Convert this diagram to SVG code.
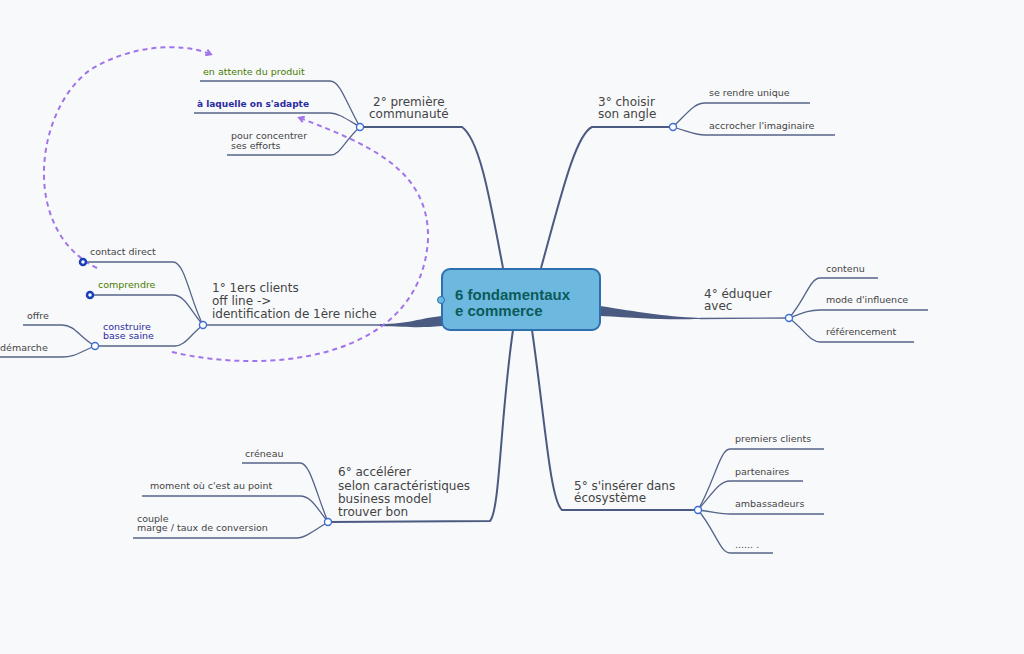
<svg xmlns="http://www.w3.org/2000/svg" width="1024" height="654" viewBox="0 0 1024 654">
<style>
.b{fill:none;stroke:#56648a;stroke-width:1.3}
.m{fill:none;stroke:#4b5a80;stroke-width:2}
.t{font-family:"DejaVu Sans",sans-serif;font-size:9.5px;fill:#444}
.mt{font-family:"DejaVu Sans",sans-serif;font-size:12px;fill:#444}
.c{fill:#fff;stroke:#3b6fd6;stroke-width:1.4}
.cd{fill:#fff;stroke:#1a3fb8;stroke-width:2.5}
.d{fill:none;stroke:#a274ea;stroke-width:2;stroke-dasharray:5 4}
</style>
<defs><marker id="a" markerWidth="8" markerHeight="8" refX="5" refY="4" orient="auto" markerUnits="userSpaceOnUse"><path d="M1,1 L6,4 L1,7" fill="none" stroke="#a274ea" stroke-width="2"/></marker></defs>
<rect width="1024" height="654" fill="#f8f9fb"/>
<g id="connectors">
<path class="m" d="M503,268 C490,200 480,140 462,127 L360,127"/>
<path class="m" d="M541,268 C560,200 575,135 592,127 L673,127"/>
<path fill="#4b5a80" d="M600,306 C640,312 660,316 700,318 L700,319 C660,320 640,318 600,316 Z"/>
<path class="b" d="M700,318.5 L789,318"/>
<path class="m" d="M532,330 C545,420 550,500 562,510 L698,510"/>
<path class="m" d="M513,330 C500,420 500,510 490,521 L328,522"/>
<path fill="#4b5a80" d="M442,316 C420,318 410,324 380,324 L380,326 C410,327 420,328 442,326 Z"/>
<path class="b" d="M380,325 L203,325"/>
<path class="b" d="M360,127 C345,100 340,81 330,81 L200,81"/>
<path class="b" d="M360,127 C345,118 338,113 330,113 L194,113"/>
<path class="b" d="M360,127 C345,140 340,155 331,155 L227,155"/>
<path class="b" d="M673,127 C690,110 695,103 705,103 L810,103"/>
<path class="b" d="M673,127 C690,132 695,135 705,135 L835,135"/>
<path class="b" d="M789,318 C805,300 810,278 820,278 L878,278"/>
<path class="b" d="M789,318 C805,312 810,310 820,310 L928,310"/>
<path class="b" d="M789,318 C805,330 810,342 820,342 L914,342"/>
<path class="b" d="M698,510 C715,480 720,449 730,449 L824,449"/>
<path class="b" d="M698,510 C715,490 720,481 730,481 L803,481"/>
<path class="b" d="M698,510 C715,512 720,514 730,514 L824,514"/>
<path class="b" d="M698,510 C715,530 720,553 730,553 L773,553"/>
<path class="b" d="M328,522 C315,490 310,463 300,463 L242,463"/>
<path class="b" d="M328,522 C315,505 310,496 300,496 L142,496"/>
<path class="b" d="M328,522 C315,530 305,538 297,538 L133,538"/>
<path class="b" d="M203,325 C190,300 185,262 173,262 L83,262"/>
<path class="b" d="M203,325 C190,310 185,295 173,295 L90,295"/>
<path class="b" d="M203,325 C190,335 185,346 175,346 L95,346"/>
<path class="b" d="M95,346 C80,338 75,325 62,325 L23,325"/>
<path class="b" d="M95,346 C80,352 75,357 62,357 L0,357"/>
<path class="d" marker-end="url(#a)" d="M97,268 C20,230 35,110 90,70 C130,45 180,42 210,54"/>
<path class="d" marker-end="url(#a)" d="M172,352 C270,375 420,360 428,240 C430,170 370,145 300,118"/>
</g>
<g id="center"><rect x="442" y="269" width="158" height="61" rx="8" fill="#6cb8de" stroke="#2f6fb0" stroke-width="2"/>
<circle cx="441" cy="300" r="3.5" fill="#6cb8de" stroke="#2f6fb0"/>
<text x="455" y="300" font-family="Liberation Sans,sans-serif" font-weight="bold" font-size="15" fill="#0b5b5a">6 fondamentaux</text>
<text x="455" y="316" font-family="Liberation Sans,sans-serif" font-weight="bold" font-size="15" fill="#0b5b5a">e commerce</text></g>
<g id="n2"><text class="mt" x="373" y="106">2° première</text><text class="mt" x="369" y="118">communauté</text><circle class="c" cx="360" cy="127" r="3.5"/></g>
<g id="n2a"><text class="t" x="203" y="75" fill="#4a7a00" style="fill:#4a7a00">en attente du produit</text></g>
<g id="n2b"><text class="t" x="197" y="107" style="fill:#2b2ba0;font-weight:bold;font-size:9px">à laquelle on s'adapte</text></g>
<g id="n2c"><text class="t" x="231" y="139">pour concentrer</text><text class="t" x="231" y="149">ses efforts</text></g>
<g id="n3"><text class="mt" x="598" y="106">3° choisir</text><text class="mt" x="598" y="118">son angle</text><circle class="c" cx="673" cy="127" r="3.5"/></g>
<g id="n3a"><text class="t" x="709" y="96">se rendre unique</text></g>
<g id="n3b"><text class="t" x="709" y="129">accrocher l'imaginaire</text></g>
<g id="n4"><text class="mt" x="704" y="298">4° éduquer</text><text class="mt" x="704" y="310">avec</text><circle class="c" cx="789" cy="318" r="3.5"/></g>
<g id="n4a"><text class="t" x="826" y="272">contenu</text></g>
<g id="n4b"><text class="t" x="826" y="303">mode d'influence</text></g>
<g id="n4c"><text class="t" x="826" y="335">référencement</text></g>
<g id="n5"><text class="mt" x="574" y="490">5° s'insérer  dans</text><text class="mt" x="574" y="502">écosystème</text><circle class="c" cx="698" cy="510" r="3.5"/></g>
<g id="n5a"><text class="t" x="735" y="442">premiers clients</text></g>
<g id="n5b"><text class="t" x="735" y="475">partenaires</text></g>
<g id="n5c"><text class="t" x="735" y="507">ambassadeurs</text></g>
<g id="n5d"><text class="t" x="735" y="548">...... .</text></g>
<g id="n6"><text class="mt" x="338" y="476">6° accélérer</text><text class="mt" x="338" y="490">selon caractéristiques</text><text class="mt" x="338" y="503">business model</text><text class="mt" x="338" y="516">trouver bon</text><circle class="c" cx="328" cy="522" r="3.5"/></g>
<g id="n6a"><text class="t" x="245" y="457">créneau</text></g>
<g id="n6b"><text class="t" x="150" y="489">moment où c'est au point</text></g>
<g id="n6c"><text class="t" x="137" y="522">couple</text><text class="t" x="137" y="531">marge / taux de conversion</text></g>
<g id="n1"><text class="mt" x="212" y="292">1° 1ers clients</text><text class="mt" x="212" y="305">off line -&gt;</text><text class="mt" x="212" y="318">identification de 1ère niche</text><circle class="c" cx="203" cy="325" r="3.5"/></g>
<g id="n1a"><text class="t" x="90" y="255">contact direct</text><circle class="cd" cx="83" cy="262" r="3"/></g>
<g id="n1b"><text class="t" x="98" y="288" style="fill:#4a7a00">comprendre</text><circle class="cd" cx="90" cy="295" r="3"/></g>
<g id="n1c"><text class="t" x="103" y="330" style="fill:#2b2ba0">construire</text><text class="t" x="103" y="339" style="fill:#2b2ba0">base saine</text><circle class="c" cx="95" cy="346" r="3.5"/></g>
<g id="n1d"><text class="t" x="27" y="319">offre</text></g>
<g id="n1e"><text class="t" x="0" y="351">démarche</text></g>
</svg>
